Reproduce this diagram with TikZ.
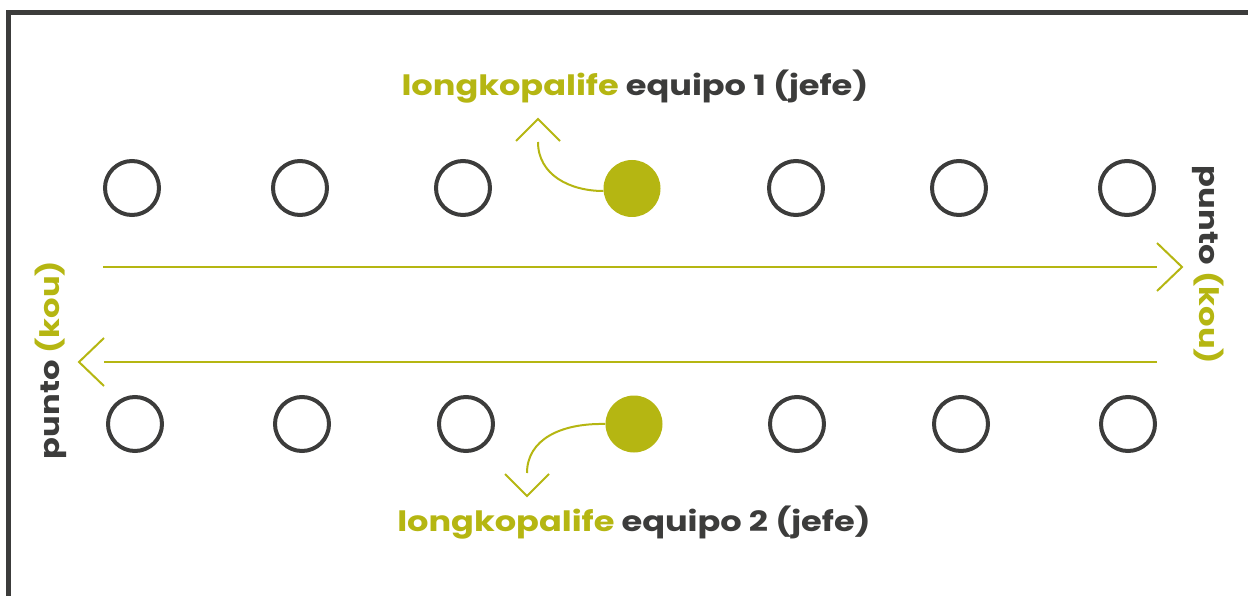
\documentclass[tikz,border=0pt]{standalone}
\usepackage{fontspec}
\setmainfont{Poppins}[FakeStretch=1.2]
\definecolor{olive}{HTML}{B5B612}
\definecolor{dgray}{HTML}{3C3C3B}
\tikzset{
  seat/.style={circle,draw=dgray,line width=4pt,minimum size=54pt,inner sep=0pt},
  boss/.style={circle,fill=olive,minimum size=57pt,inner sep=0pt},
  flow/.style={olive,line width=2pt},
  chev/.style={olive,line width=2pt},
  lbl/.style={font=\fontsize{28}{32}\selectfont\bfseries,text=dgray,inner sep=0pt},
  side/.style={font=\fontsize{26.8}{30}\selectfont\bfseries,text=dgray,inner sep=0pt}
}
\begin{document}
\begin{tikzpicture}[x=1pt,y=-1pt]
\useasboundingbox (0,0) rectangle (1248,596);
% frame
\draw[dgray,line width=5pt] (8.5,600) -- (8.5,12.5) -- (1252,12.5);
% top row
\foreach \x/\n in {132/a1,300/a2,463/a3,796/a5,959/a6,1127/a7}
  \node[seat] (\n) at (\x,188) {};
\node[boss] (a4) at (632,188.5) {};
% bottom row
\foreach \x/\n in {135/b1,302/b2,466/b3,797/b5,961/b6,1128/b7}
  \node[seat] (\n) at (\x,424) {};
\node[boss] (b4) at (634,424) {};
% straight arrows
\coordinate (r0) at (103,267); \coordinate (r1) at (1157,267); \coordinate (rt) at (1182,267);
\draw[flow] (r0) -- (r1);
\draw[chev] (1157,243) -- (rt) -- (1157,291);
\coordinate (l0) at (1157,362); \coordinate (l1) at (104,362); \coordinate (lt) at (79,362);
\draw[flow] (l0) -- (l1);
\draw[chev] (104,338) -- (lt) -- (104,386);
% curved arrows
\coordinate (ta) at (538,142); \coordinate (tt) at (538,119);
\draw[flow] (a4.west |- 0,191) .. controls (570,191) and (538,175) .. (ta);
\draw[chev] (516,141) -- (tt) -- (560,141);
\coordinate (ba) at (527,473); \coordinate (bt) at (527,496);
\draw[flow] (b4.west) .. controls (560,423) and (527,440) .. (ba);
\draw[chev] (505,474) -- (bt) -- (549,474);
% labels
\node[lbl] (t1) at (635,87) {\textcolor{olive}{longkopalife} equipo 1 (jefe)};
\node[lbl] (t2) at (634,523) {\textcolor{olive}{longkopalife} equipo 2 (jefe)};
\node[side,rotate=90] (pl) at (51,360) {punto \textcolor{olive}{(kou)}};
\node[side,rotate=-90] (pr) at (1208,265) {punto \textcolor{olive}{(kou)}};
\end{tikzpicture}
\end{document}
